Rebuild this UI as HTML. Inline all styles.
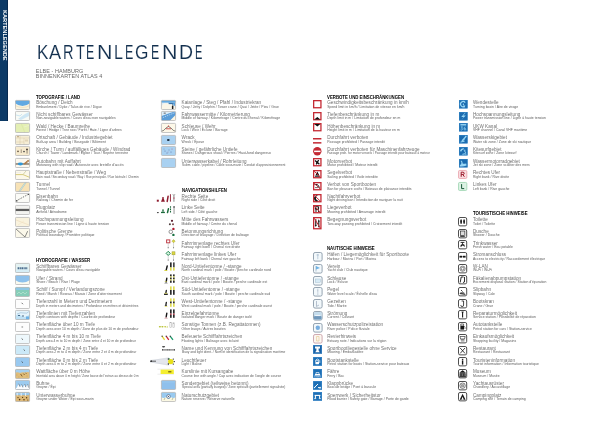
<!DOCTYPE html>
<html><head><meta charset="utf-8"><style>
html,body{margin:0;padding:0;background:#fff;}
body{width:600px;height:424px;position:relative;overflow:hidden;font-family:"Liberation Sans",sans-serif;}
.i{position:absolute;overflow:visible;}
.t,.s,.h{position:absolute;white-space:nowrap;line-height:1;}
.t{font-size:4.60px;color:#707070;letter-spacing:0.03px;}
.s{font-size:3.40px;color:#5a5a5a;letter-spacing:0.04px;}
.h{font-size:4.80px;font-weight:bold;color:#000;transform:scaleX(0.9);transform-origin:0 0;}
#side{position:absolute;left:0;top:0;width:8.2px;height:120.6px;background:linear-gradient(90deg,#0c3a66 0,#0c3a66 6.6px,#072a50 7.2px,#06264a 8.2px);}
#side div{position:absolute;left:6.9px;top:9.8px;transform-origin:0 0;transform:rotate(90deg);font-size:5.6px;font-weight:bold;color:#fff;line-height:1;white-space:nowrap;letter-spacing:0.02px;}
.tl{position:absolute;top:41.94px;font-size:20.4px;color:#13304f;line-height:1;transform-origin:0 0;-webkit-text-stroke:0.12px #fff;}
.sub{position:absolute;left:35.7px;font-size:5.45px;color:#666;line-height:1;white-space:nowrap;letter-spacing:0.08px;}
#wrap{position:absolute;left:0;top:0;width:600px;height:424px;will-change:transform;}
</style></head><body><div id="wrap">
<div id="side"><div>KARTENLEGENDE</div></div>
<div class="tl" style="left:36.63px;transform:scaleX(0.838)">K</div><div class="tl" style="left:48.90px;transform:scaleX(0.891)">A</div><div class="tl" style="left:62.73px;transform:scaleX(0.715)">R</div><div class="tl" style="left:75.61px;transform:scaleX(0.714)">T</div><div class="tl" style="left:86.41px;transform:scaleX(0.608)">E</div><div class="tl" style="left:96.54px;transform:scaleX(1.050)">N</div><div class="tl" style="left:113.71px;transform:scaleX(0.791)">L</div><div class="tl" style="left:124.50px;transform:scaleX(0.613)">E</div><div class="tl" style="left:135.13px;transform:scaleX(0.848)">G</div><div class="tl" style="left:150.81px;transform:scaleX(0.608)">E</div><div class="tl" style="left:162.29px;transform:scaleX(1.050)">N</div><div class="tl" style="left:178.94px;transform:scaleX(0.955)">D</div><div class="tl" style="left:194.61px;transform:scaleX(0.545)">E</div>
<div class="sub" style="top:68.5px">ELBE - HAMBURG</div>
<div class="sub" style="top:74.0px">BINNENKARTEN ATLAS 4</div>

<div class="h" style="left:36.2px;top:96px">TOPOGRAFIE / LAND</div>
<div class="h" style="left:36.2px;top:259px">HYDROGRAFIE / WASSER</div>
<div class="h" style="left:181.6px;top:189px">NAVIGATIONSHILFEN</div>
<div class="h" style="left:327.2px;top:96px">VERBOTE UND EINSCHRÄNKUNGEN</div>
<div class="h" style="left:327.2px;top:247px">NAUTISCHE HINWEISE</div>
<div class="h" style="left:473.0px;top:212px">TOURISTISCHE HINWEISE</div>
<svg class="i" style="left:15.3px;top:99.60px" width="15.0" height="9.9" viewBox="0 0 15.0 9.9"><defs><clipPath id="c15_0"><rect x="0.4" y="0.4" width="14.2" height="9.1" rx="0.9"/></clipPath></defs><g clip-path="url(#c15_0)"><rect width="15" height="10" fill="#fbf4de"/><path d="M0,0 H15 V3.2 Q7.5,8.6 0,3.2Z" fill="#62a9e2"/><path d="M0,5.5 Q7.5,9.5 15,5.5" stroke="#e8c9a0" stroke-width="0.4" fill="none"/></g><rect x="0.4" y="0.4" width="14.2" height="9.1" rx="0.9" fill="none" stroke="#b2b2b2" stroke-width="0.75"/></svg>
<div class="t" style="left:36.2px;top:101.10px">Böschung / Deich</div>
<div class="s" style="left:36.2px;top:105.60px">Embankment / Dyke / Talus de rive / Digue</div>
<svg class="i" style="left:15.3px;top:111.30px" width="15.0" height="9.9" viewBox="0 0 15.0 9.9"><defs><clipPath id="c15_1"><rect x="0.4" y="0.4" width="14.2" height="9.1" rx="0.9"/></clipPath></defs><g clip-path="url(#c15_1)"><rect width="15" height="10" fill="#f9fbf6"/><path d="M3,8 L7,5 L10,3 L14,1 L14,5 L10,7 L6,9Z" fill="#cfe7f4"/><path d="M1,4 L5,5 L7,3" stroke="#bfe0f0" stroke-width="0.8" fill="none"/></g><rect x="0.4" y="0.4" width="14.2" height="9.1" rx="0.9" fill="none" stroke="#b2b2b2" stroke-width="0.75"/></svg>
<div class="t" style="left:36.2px;top:112.80px">Nicht schiffbares Gewässer</div>
<div class="s" style="left:36.2px;top:117.30px">Non-navigable waters / Cours d'eau non navigables</div>
<svg class="i" style="left:15.3px;top:123.00px" width="15.0" height="9.9" viewBox="0 0 15.0 9.9"><defs><clipPath id="c15_2"><rect x="0.4" y="0.4" width="14.2" height="9.1" rx="0.9"/></clipPath></defs><g clip-path="url(#c15_2)"><rect width="15" height="10" fill="#e4efb4"/><path fill="none" d="M6,0 L10,10" stroke="#d4e29c" stroke-width="0.5"/><path fill="none" d="M9,4 L15,2" stroke="#f0f4d6" stroke-width="0.6"/></g><rect x="0.4" y="0.4" width="14.2" height="9.1" rx="0.9" fill="none" stroke="#b2b2b2" stroke-width="0.75"/></svg>
<div class="t" style="left:36.2px;top:124.50px">Wald / Hecke / Baumreihe</div>
<div class="s" style="left:36.2px;top:129.00px">Forest / Hedge / Tree row / Forêt / Haie / Ligne d'arbres</div>
<svg class="i" style="left:15.3px;top:134.70px" width="15.0" height="9.9" viewBox="0 0 15.0 9.9"><defs><clipPath id="c15_3"><rect x="0.4" y="0.4" width="14.2" height="9.1" rx="0.9"/></clipPath></defs><g clip-path="url(#c15_3)"><rect width="15" height="10" fill="#f6eed6"/><path fill="none" d="M1,3 H14 M5,0 V10 M9,3 V10 M1,7 H9" stroke="#d9c9a6" stroke-width="0.5"/><rect x="2" y="1" width="2" height="1.3" fill="#c9b48f"/><rect x="10" y="4.5" width="3" height="2" fill="#e2d4b6"/></g><rect x="0.4" y="0.4" width="14.2" height="9.1" rx="0.9" fill="none" stroke="#b2b2b2" stroke-width="0.75"/></svg>
<div class="t" style="left:36.2px;top:136.20px">Ortschaft / Gebäude / Industriegebiet</div>
<div class="s" style="left:36.2px;top:140.70px">Built-up area / Building / Bourgade / Bâtiment</div>
<svg class="i" style="left:15.3px;top:146.40px" width="15.0" height="9.9" viewBox="0 0 15.0 9.9"><defs><clipPath id="c15_4"><rect x="0.4" y="0.4" width="14.2" height="9.1" rx="0.9"/></clipPath></defs><g clip-path="url(#c15_4)"><rect width="15" height="10" fill="#f7ebcf"/><circle cx="3" cy="5.4" r="0.8" fill="#5a4a3a"/><rect x="5.6" y="3.4" width="1.4" height="3.6" fill="#b8ac98"/><circle cx="9" cy="5.6" r="0.8" fill="#3a3a3a"/><rect x="11.4" y="4.6" width="1.3" height="3" fill="#a89c88"/><circle cx="12" cy="3.4" r="1" fill="#4a4038"/></g><rect x="0.4" y="0.4" width="14.2" height="9.1" rx="0.9" fill="none" stroke="#b2b2b2" stroke-width="0.75"/></svg>
<div class="t" style="left:36.2px;top:147.90px">Kirche / Turm / auffälliges Gebäude / Windrad</div>
<div class="s" style="left:36.2px;top:152.40px">Church / Tower / Landmark / Église / Tour / Repère terrestre</div>
<svg class="i" style="left:15.3px;top:158.10px" width="15.0" height="9.9" viewBox="0 0 15.0 9.9"><defs><clipPath id="c15_5"><rect x="0.4" y="0.4" width="14.2" height="9.1" rx="0.9"/></clipPath></defs><g clip-path="url(#c15_5)"><rect width="15" height="10" fill="#fcf8ee"/><path fill="none" d="M0,6 H15" stroke="#3a2a1a" stroke-width="0.9"/><path fill="none" d="M9.2,6 L13.8,2.4" stroke="#8a5a2a" stroke-width="1.5"/><path fill="none" d="M9.2,6 L13.8,2.4" stroke="#e8b080" stroke-width="0.7"/><ellipse cx="5.4" cy="6" rx="2.5" ry="1.4" fill="#2f98d8"/></g><rect x="0.4" y="0.4" width="14.2" height="9.1" rx="0.9" fill="none" stroke="#b2b2b2" stroke-width="0.75"/></svg>
<div class="t" style="left:36.2px;top:159.60px">Autobahn mit Auffahrt</div>
<div class="s" style="left:36.2px;top:164.10px">Motorway with slip road / Autoroute avec bretelle d'accès</div>
<svg class="i" style="left:15.3px;top:169.80px" width="15.0" height="9.9" viewBox="0 0 15.0 9.9"><defs><clipPath id="c15_6"><rect x="0.4" y="0.4" width="14.2" height="9.1" rx="0.9"/></clipPath></defs><g clip-path="url(#c15_6)"><rect width="15" height="10" fill="#fcf8ea"/><path fill="none" d="M0,4.6 H8 L15,7.5" stroke="#d8cc7c" stroke-width="1"/><path fill="none" d="M8,4.6 L11,1" stroke="#c9c9a0" stroke-width="0.8"/><path fill="none" d="M0,2.5 L6,2.5" stroke="#ddd" stroke-width="0.4"/></g><rect x="0.4" y="0.4" width="14.2" height="9.1" rx="0.9" fill="none" stroke="#b2b2b2" stroke-width="0.75"/></svg>
<div class="t" style="left:36.2px;top:171.30px">Hauptstraße / Nebenstraße / Weg</div>
<div class="s" style="left:36.2px;top:175.80px;transform:scaleX(0.899);transform-origin:0 0">Main road / Secondary road / Way / Rue principale / Rue latérale / Chemin</div>
<svg class="i" style="left:15.3px;top:181.50px" width="15.0" height="9.9" viewBox="0 0 15.0 9.9"><defs><clipPath id="c15_7"><rect x="0.4" y="0.4" width="14.2" height="9.1" rx="0.9"/></clipPath></defs><g clip-path="url(#c15_7)"><rect width="15" height="10" fill="#f7e2b6"/><path fill="none" d="M4,10 L11,0" stroke="#a9c7c4" stroke-width="1.6"/><path fill="none" d="M4,10 L11,0" stroke="#eef4ee" stroke-width="0.5"/></g><rect x="0.4" y="0.4" width="14.2" height="9.1" rx="0.9" fill="none" stroke="#b2b2b2" stroke-width="0.75"/></svg>
<div class="t" style="left:36.2px;top:183.00px">Tunnel</div>
<div class="s" style="left:36.2px;top:187.50px">Tunnel / Tunnel</div>
<svg class="i" style="left:15.3px;top:193.20px" width="15.0" height="9.9" viewBox="0 0 15.0 9.9"><defs><clipPath id="c15_8"><rect x="0.4" y="0.4" width="14.2" height="9.1" rx="0.9"/></clipPath></defs><g clip-path="url(#c15_8)"><rect width="15" height="10" fill="#fbfbf7"/><path fill="none" d="M1,8 L13,1.5" stroke="#3a3a3a" stroke-width="0.7" stroke-dasharray="1.4,1.2"/><circle cx="13.5" cy="1.3" r="0.7" fill="#3a3a3a"/><rect x="1" y="7.2" width="1.5" height="1.3" fill="#555"/></g><rect x="0.4" y="0.4" width="14.2" height="9.1" rx="0.9" fill="none" stroke="#b2b2b2" stroke-width="0.75"/></svg>
<div class="t" style="left:36.2px;top:194.70px">Eisenbahn</div>
<div class="s" style="left:36.2px;top:199.20px">Railway / Chemin de fer</div>
<svg class="i" style="left:15.3px;top:204.90px" width="15.0" height="9.9" viewBox="0 0 15.0 9.9"><defs><clipPath id="c15_9"><rect x="0.4" y="0.4" width="14.2" height="9.1" rx="0.9"/></clipPath></defs><g clip-path="url(#c15_9)"><rect width="15" height="10" fill="#fbfbf8"/><rect x="0" y="3.8" width="15" height="2.3" fill="#5c5c5c"/><path fill="none" d="M0,2 H15 M0,8 H15" stroke="#d6d6d6" stroke-width="0.4"/></g><rect x="0.4" y="0.4" width="14.2" height="9.1" rx="0.9" fill="none" stroke="#b2b2b2" stroke-width="0.75"/></svg>
<div class="t" style="left:36.2px;top:206.40px">Flugplatz</div>
<div class="s" style="left:36.2px;top:210.90px">Airfield / Aérodrome</div>
<svg class="i" style="left:15.3px;top:216.60px" width="15.0" height="9.9" viewBox="0 0 15.0 9.9"><defs><clipPath id="c15_10"><rect x="0.4" y="0.4" width="14.2" height="9.1" rx="0.9"/></clipPath></defs><g clip-path="url(#c15_10)"><rect width="15" height="10" fill="#faf3de"/><path fill="none" d="M1,3 L14,8" stroke="#ecd9b8" stroke-width="0.6"/><path fill="none" d="M3,8 L9,4" stroke="#f0e2c4" stroke-width="0.5"/></g><rect x="0.4" y="0.4" width="14.2" height="9.1" rx="0.9" fill="none" stroke="#b2b2b2" stroke-width="0.75"/></svg>
<div class="t" style="left:36.2px;top:218.10px">Hochspannungsleitung</div>
<div class="s" style="left:36.2px;top:222.60px">Power transmission line / Ligne à haute tension</div>
<svg class="i" style="left:15.3px;top:228.30px" width="15.0" height="9.9" viewBox="0 0 15.0 9.9"><defs><clipPath id="c15_11"><rect x="0.4" y="0.4" width="14.2" height="9.1" rx="0.9"/></clipPath></defs><g clip-path="url(#c15_11)"><rect width="15" height="10" fill="#fbf8ea"/><path d="M1,1 L10,9 L12.5,3.5 L13,3" stroke="#5a5a5a" stroke-width="0.7" fill="none"/></g><rect x="0.4" y="0.4" width="14.2" height="9.1" rx="0.9" fill="none" stroke="#b2b2b2" stroke-width="0.75"/></svg>
<div class="t" style="left:36.2px;top:229.80px">Politische Grenze</div>
<div class="s" style="left:36.2px;top:234.30px">Political boundary / Frontière politique</div>
<svg class="i" style="left:15.3px;top:263.40px" width="15.0" height="9.9" viewBox="0 0 15.0 9.9"><defs><clipPath id="c15_14"><rect x="0.4" y="0.4" width="14.2" height="9.1" rx="0.9"/></clipPath></defs><g clip-path="url(#c15_14)"><rect width="15" height="10" fill="#e4f2f2"/><rect y="6.5" width="15" height="3.5" fill="#d6eef6"/><path fill="none" d="M2.6,5.2 h10" stroke="#4a6c8e" stroke-width="1.9" stroke-dasharray="1.6,0.5,1.2,0.5"/></g><rect x="0.4" y="0.4" width="14.2" height="9.1" rx="0.9" fill="none" stroke="#b2b2b2" stroke-width="0.75"/></svg>
<div class="t" style="left:36.2px;top:264.90px">Schiffbares Gewässer</div>
<div class="s" style="left:36.2px;top:269.40px">Navigable waters / Cours d'eau navigable</div>
<svg class="i" style="left:15.3px;top:275.10px" width="15.0" height="9.9" viewBox="0 0 15.0 9.9"><defs><clipPath id="c15_15"><rect x="0.4" y="0.4" width="14.2" height="9.1" rx="0.9"/></clipPath></defs><g clip-path="url(#c15_15)"><rect width="15" height="10" fill="#fafaf0"/><path d="M0,0 H15 V5 Q7.5,10 0,5Z" fill="#8dc1ec"/></g><rect x="0.4" y="0.4" width="14.2" height="9.1" rx="0.9" fill="none" stroke="#b2b2b2" stroke-width="0.75"/></svg>
<div class="t" style="left:36.2px;top:276.60px">Ufer / Strand</div>
<div class="s" style="left:36.2px;top:281.10px">Shore / Beach / Rive / Plage</div>
<svg class="i" style="left:15.3px;top:286.80px" width="15.0" height="9.9" viewBox="0 0 15.0 9.9"><defs><clipPath id="c15_16"><rect x="0.4" y="0.4" width="14.2" height="9.1" rx="0.9"/></clipPath></defs><g clip-path="url(#c15_16)"><rect width="15" height="10" fill="#86cdb8"/><rect width="15" height="3" fill="#8ec7e4"/><path d="M2,7 L4,5 L6,7 L8,5 L10,7 L12,5" stroke="#c8ecd8" stroke-width="0.6" fill="none"/></g><rect x="0.4" y="0.4" width="14.2" height="9.1" rx="0.9" fill="none" stroke="#b2b2b2" stroke-width="0.75"/></svg>
<div class="t" style="left:36.2px;top:288.30px">Schilf / Sumpf / Verlandungszone</div>
<div class="s" style="left:36.2px;top:292.80px">Reed / Marsh / Roseau / Marais / Zone d'atterrissement</div>
<svg class="i" style="left:15.3px;top:298.50px" width="15.0" height="9.9" viewBox="0 0 15.0 9.9"><defs><clipPath id="c15_17"><rect x="0.4" y="0.4" width="14.2" height="9.1" rx="0.9"/></clipPath></defs><g clip-path="url(#c15_17)"><rect width="15" height="10" fill="#fdfdfd"/><path fill="none" d="M6.6,3.8 L8,5.2" stroke="#333" stroke-width="0.7"/></g><rect x="0.4" y="0.4" width="14.2" height="9.1" rx="0.9" fill="none" stroke="#b2b2b2" stroke-width="0.75"/></svg>
<div class="t" style="left:36.2px;top:300.00px">Tiefenzahl in Metern und Dezimetern</div>
<div class="s" style="left:36.2px;top:304.50px;transform:scaleX(0.951);transform-origin:0 0">Depth in meters and decimeters / Profondeur en mètres et décimètres</div>
<svg class="i" style="left:15.3px;top:310.20px" width="15.0" height="9.9" viewBox="0 0 15.0 9.9"><defs><clipPath id="c15_18"><rect x="0.4" y="0.4" width="14.2" height="9.1" rx="0.9"/></clipPath></defs><g clip-path="url(#c15_18)"><rect width="15" height="10" fill="#e6f4fb"/><path d="M0,6 Q4,3 7,6 T15,4 V10 H0Z" fill="#bfe1f5"/><rect x="11" y="6.5" width="3" height="3" fill="#6fb2e6"/><path fill="none" d="M3,5.5 h2 M7,6 h2" stroke="#2a4a6a" stroke-width="0.8"/><path d="M2,4 Q6,2 9,3 T14,1.5" stroke="#5a8ab5" stroke-width="0.35" fill="none"/></g><rect x="0.4" y="0.4" width="14.2" height="9.1" rx="0.9" fill="none" stroke="#b2b2b2" stroke-width="0.75"/></svg>
<div class="t" style="left:36.2px;top:311.70px">Tiefenlinien mit Tiefenzahlen</div>
<div class="s" style="left:36.2px;top:316.20px">Depth contours with depths / Courbe de profondeur</div>
<svg class="i" style="left:15.3px;top:321.90px" width="15.0" height="9.9" viewBox="0 0 15.0 9.9"><defs><clipPath id="c15_19"><rect x="0.4" y="0.4" width="14.2" height="9.1" rx="0.9"/></clipPath></defs><g clip-path="url(#c15_19)"><rect width="15" height="10" fill="#fdfdfd"/><path fill="none" d="M6.5,5 h1.6" stroke="#333" stroke-width="0.6"/></g><rect x="0.4" y="0.4" width="14.2" height="9.1" rx="0.9" fill="none" stroke="#b2b2b2" stroke-width="0.75"/></svg>
<div class="t" style="left:36.2px;top:323.40px">Tiefenfläche über 10 m Tiefe</div>
<div class="s" style="left:36.2px;top:327.90px">Depth area over 10 m depth / Zone de plus de 10 m de profondeur</div>
<svg class="i" style="left:15.3px;top:333.60px" width="15.0" height="9.9" viewBox="0 0 15.0 9.9"><defs><clipPath id="c15_20"><rect x="0.4" y="0.4" width="14.2" height="9.1" rx="0.9"/></clipPath></defs><g clip-path="url(#c15_20)"><rect width="15" height="10" fill="#eef8fc"/><path fill="none" d="M6.6,4.5 L8,5.8" stroke="#333" stroke-width="0.7"/></g><rect x="0.4" y="0.4" width="14.2" height="9.1" rx="0.9" fill="none" stroke="#b2b2b2" stroke-width="0.75"/></svg>
<div class="t" style="left:36.2px;top:335.10px">Tiefenfläche 4 m bis 10 m Tiefe</div>
<div class="s" style="left:36.2px;top:339.60px;transform:scaleX(0.96);transform-origin:0 0">Depth area 4 m to 10 m depth / Zone entre 4 et 10 m de profondeur</div>
<svg class="i" style="left:15.3px;top:345.30px" width="15.0" height="9.9" viewBox="0 0 15.0 9.9"><defs><clipPath id="c15_21"><rect x="0.4" y="0.4" width="14.2" height="9.1" rx="0.9"/></clipPath></defs><g clip-path="url(#c15_21)"><rect width="15" height="10" fill="#cbe9f8"/><path fill="none" d="M8.6,4.5 L10,5.8" stroke="#333" stroke-width="0.7"/></g><rect x="0.4" y="0.4" width="14.2" height="9.1" rx="0.9" fill="none" stroke="#b2b2b2" stroke-width="0.75"/></svg>
<div class="t" style="left:36.2px;top:346.80px">Tiefenfläche 2 m bis 4 m Tiefe</div>
<div class="s" style="left:36.2px;top:351.30px">Depth area 2 m to 4 m depth / Zone entre 2 et 4 m de profondeur</div>
<svg class="i" style="left:15.3px;top:357.00px" width="15.0" height="9.9" viewBox="0 0 15.0 9.9"><defs><clipPath id="c15_22"><rect x="0.4" y="0.4" width="14.2" height="9.1" rx="0.9"/></clipPath></defs><g clip-path="url(#c15_22)"><rect width="15" height="10" fill="#99c9f0"/><path fill="none" d="M6.6,4.5 L8,5.8" stroke="#333" stroke-width="0.7"/></g><rect x="0.4" y="0.4" width="14.2" height="9.1" rx="0.9" fill="none" stroke="#b2b2b2" stroke-width="0.75"/></svg>
<div class="t" style="left:36.2px;top:358.50px">Tiefenfläche 0 m bis 2 m Tiefe</div>
<div class="s" style="left:36.2px;top:363.00px">Depth area 0 m to 2 m depth / Zone entre 0 et 2 m de profondeur</div>
<svg class="i" style="left:15.3px;top:368.70px" width="15.0" height="9.9" viewBox="0 0 15.0 9.9"><defs><clipPath id="c15_23"><rect x="0.4" y="0.4" width="14.2" height="9.1" rx="0.9"/></clipPath></defs><g clip-path="url(#c15_23)"><rect width="15" height="10" fill="#dfbd7a"/><path d="M0,0 H15 V3.4 Q12,2.4 10,3.6 Q7,2.6 5,4 Q2.5,2.8 0,3.8Z" fill="#a4cff0"/><path fill="none" d="M5.6,5 L7.2,7.4 M8.4,4.6 L9.6,6 M10.6,3.8 L11.4,4.8" stroke="#6a4a20" stroke-width="0.8"/><path fill="none" d="M1,6 h1.5 M3,8 h1.5 M11,7 h2" stroke="#c8a060" stroke-width="0.5"/></g><rect x="0.4" y="0.4" width="14.2" height="9.1" rx="0.9" fill="none" stroke="#b2b2b2" stroke-width="0.75"/></svg>
<div class="t" style="left:36.2px;top:370.20px">Wattfläche über 0 m Höhe</div>
<div class="s" style="left:36.2px;top:374.70px;transform:scaleX(0.891);transform-origin:0 0">Intertidal area above 0 m height / Zone basse de l'estran au dessus de 0 m</div>
<svg class="i" style="left:15.3px;top:380.40px" width="15.0" height="9.9" viewBox="0 0 15.0 9.9"><defs><clipPath id="c15_24"><rect x="0.4" y="0.4" width="14.2" height="9.1" rx="0.9"/></clipPath></defs><g clip-path="url(#c15_24)"><rect width="15" height="10" fill="#9ccbef"/><path d="M0,10 V7.6 L1.6,8 L3.6,3.8 L5,6.8 L6.6,4.4 L8.2,7.2 L9.6,4 L11,7 L12.6,4.2 L15,7.4 V10Z" fill="#fbfdff"/><path fill="none" d="M3.6,3.8 L5,6.8 M6.6,4.4 L7.8,7.4 M9.6,4 L10.8,7.2 M12.6,4.2 L13.6,7.6" stroke="#2a3a4a" stroke-width="0.5"/></g><rect x="0.4" y="0.4" width="14.2" height="9.1" rx="0.9" fill="none" stroke="#b2b2b2" stroke-width="0.75"/></svg>
<div class="t" style="left:36.2px;top:381.90px">Buhne</div>
<div class="s" style="left:36.2px;top:386.40px">Groyne / Épi</div>
<svg class="i" style="left:15.3px;top:392.10px" width="15.0" height="9.9" viewBox="0 0 15.0 9.9"><defs><clipPath id="c15_25"><rect x="0.4" y="0.4" width="14.2" height="9.1" rx="0.9"/></clipPath></defs><g clip-path="url(#c15_25)"><rect width="15" height="10" fill="#dcb877"/><rect width="15" height="3" fill="#9ccbef"/><path fill="none" d="M0,3 H15" stroke="#8ab0d0" stroke-width="0.4"/><path fill="none" d="M2.2,0.8 V3.6 M6.2,0.8 V4 M10.6,0.8 V4" stroke="#f2f6fa" stroke-width="0.9"/><g fill="#5a3a14"><circle cx="3" cy="5.6" r="0.7"/><circle cx="4.6" cy="7.6" r="0.8"/><circle cx="7.6" cy="5.4" r="0.6"/><circle cx="9" cy="7.8" r="0.8"/><circle cx="11.6" cy="5.8" r="0.7"/><circle cx="12.8" cy="8" r="0.6"/></g></g><rect x="0.4" y="0.4" width="14.2" height="9.1" rx="0.9" fill="none" stroke="#b2b2b2" stroke-width="0.75"/></svg>
<div class="t" style="left:36.2px;top:393.60px">Unterwasserbuhne</div>
<div class="s" style="left:36.2px;top:398.10px">Groyne under Water / Épi sous-marin</div>
<svg class="i" style="left:161.1px;top:99.60px" width="15.0" height="9.9" viewBox="0 0 15.0 9.9"><defs><clipPath id="c161_0"><rect x="0.4" y="0.4" width="14.2" height="9.1" rx="0.9"/></clipPath></defs><g clip-path="url(#c161_0)"><rect width="15" height="10" fill="#fbf6e8"/><path d="M0,0 H15 V6.2 H12.6 V4.4 H8.2 L7,3.2 H3 L0,6.5Z" fill="#dcecf7"/><rect width="15" height="2.6" fill="#64a9df"/><path d="M7,2.6 H14 V5.8 H12.4 V4 H8.6Z" fill="#5a9fd8"/><path d="M7.6,3.6 H11.6 V5.2" stroke="#24507a" stroke-width="0.6" fill="none"/><rect x="10.9" y="5.4" width="1.5" height="3.6" rx="0.6" fill="#1a1a1a"/></g><rect x="0.4" y="0.4" width="14.2" height="9.1" rx="0.9" fill="none" stroke="#b2b2b2" stroke-width="0.75"/></svg>
<div class="t" style="left:181.6px;top:101.10px">Kaianlage / Steg / Pfahl / Industriekran</div>
<div class="s" style="left:181.6px;top:105.60px">Quay / Jetty / Dolphin / Tower crane / Quai / Jetée / Pieu / Grue</div>
<svg class="i" style="left:161.1px;top:111.30px" width="15.0" height="9.9" viewBox="0 0 15.0 9.9"><defs><clipPath id="c161_1"><rect x="0.4" y="0.4" width="14.2" height="9.1" rx="0.9"/></clipPath></defs><g clip-path="url(#c161_1)"><rect width="15" height="10" fill="#fbf5e2"/><path d="M0,0 H15 V1.5 L0,7.5Z" fill="#dcecf8"/><path d="M0,5.2 Q5,3.6 9,2 L15,0 V3.6 L8.6,10 H0Z" fill="#5b9dd8"/><path d="M0,7.4 Q5,5.2 9.6,3.4 L15,1.2" stroke="#ffffff" stroke-width="0.6" fill="none" stroke-dasharray="1.2,0.9"/><path fill="none" d="M2.4,2.2 h2.6 M3.8,1.4 v1.6" stroke="#555" stroke-width="0.5"/></g><rect x="0.4" y="0.4" width="14.2" height="9.1" rx="0.9" fill="none" stroke="#b2b2b2" stroke-width="0.75"/></svg>
<div class="t" style="left:181.6px;top:112.80px">Fahrwassermitte / Kilometrierung</div>
<div class="s" style="left:181.6px;top:117.30px">Middle of fairway / Kilometrage / Centre du chenal / Kilométrage</div>
<svg class="i" style="left:161.1px;top:123.00px" width="15.0" height="9.9" viewBox="0 0 15.0 9.9"><defs><clipPath id="c161_2"><rect x="0.4" y="0.4" width="14.2" height="9.1" rx="0.9"/></clipPath></defs><g clip-path="url(#c161_2)"><rect width="15" height="10" fill="#fdf8e8"/><path d="M0,8.5 Q3,8 5,5 Q7.5,2 10,5 Q12,8 15,8.5" stroke="#333" stroke-width="0.6" fill="none"/><path fill="none" d="M5,5.8 H10" stroke="#c33" stroke-width="0.8"/><path d="M7.5,2.2 L6.5,3.5 H8.5Z" fill="#c33"/></g><rect x="0.4" y="0.4" width="14.2" height="9.1" rx="0.9" fill="none" stroke="#b2b2b2" stroke-width="0.75"/></svg>
<div class="t" style="left:181.6px;top:124.50px">Schleuse / Wehr</div>
<div class="s" style="left:181.6px;top:129.00px">Lock / Weir / Écluse / Barrage</div>
<svg class="i" style="left:161.1px;top:134.70px" width="15.0" height="9.9" viewBox="0 0 15.0 9.9"><defs><clipPath id="c161_3"><rect x="0.4" y="0.4" width="14.2" height="9.1" rx="0.9"/></clipPath></defs><g clip-path="url(#c161_3)"><rect width="15" height="10" fill="#a9d1f1"/><ellipse cx="7.3" cy="5" rx="1.4" ry="0.9" fill="#1a2a3a"/></g><rect x="0.4" y="0.4" width="14.2" height="9.1" rx="0.9" fill="none" stroke="#b2b2b2" stroke-width="0.75"/></svg>
<div class="t" style="left:181.6px;top:136.20px">Wrack</div>
<div class="s" style="left:181.6px;top:140.70px">Wreck / Épave</div>
<svg class="i" style="left:161.1px;top:146.40px" width="15.0" height="9.9" viewBox="0 0 15.0 9.9"><defs><clipPath id="c161_4"><rect x="0.4" y="0.4" width="14.2" height="9.1" rx="0.9"/></clipPath></defs><g clip-path="url(#c161_4)"><rect width="15" height="10" fill="#a9d1f1"/><g fill="#5a70a0"><circle cx="4" cy="5" r="0.5"/><circle cx="6" cy="7" r="0.5"/><circle cx="8" cy="4" r="0.5"/><circle cx="10" cy="6" r="0.5"/><circle cx="3" cy="3" r="0.4"/></g><g fill="#b06a8a"><circle cx="11" cy="3" r="0.5"/><circle cx="7" cy="6" r="0.4"/></g></g><rect x="0.4" y="0.4" width="14.2" height="9.1" rx="0.9" fill="none" stroke="#b2b2b2" stroke-width="0.75"/></svg>
<div class="t" style="left:181.6px;top:147.90px">Steine / gefährliche Untiefe</div>
<div class="s" style="left:181.6px;top:152.40px">Stones / Dangerous shoal / Pierres / Haut-fond dangereux</div>
<svg class="i" style="left:161.1px;top:158.10px" width="15.0" height="9.9" viewBox="0 0 15.0 9.9"><defs><clipPath id="c161_5"><rect x="0.4" y="0.4" width="14.2" height="9.1" rx="0.9"/></clipPath></defs><g clip-path="url(#c161_5)"><rect width="15" height="10" fill="#a9d1f1"/></g><rect x="0.4" y="0.4" width="14.2" height="9.1" rx="0.9" fill="none" stroke="#b2b2b2" stroke-width="0.75"/></svg>
<div class="t" style="left:181.6px;top:159.60px">Unterwasserkabel / Rohrleitung</div>
<div class="s" style="left:181.6px;top:164.10px;transform:scaleX(0.922);transform-origin:0 0">Subm. cable / pipeline / Câble sous-marin / Conduit d'approvisionnement</div>
<svg class="i" style="left:154px;top:192.20px" width="24" height="12" viewBox="0 0 24 12"><rect x="2.8" y="7.7" width="2" height="2" fill="#8e1b2e"/><circle cx="9" cy="5.9" r="0.95" fill="#8e1b2e"/><path d="M7,9.7 L8.3,6.6 H9.7 L10.9,9.7Z" fill="#8e1b2e"/><path fill="none" d="M13.2,9.4 L14.1,4.3" stroke="#8e1b2e" stroke-width="1.5" stroke-linecap="round"/><path fill="none" d="M16.45,2.2 V9" stroke="#8e1b2e" stroke-width="0.9"/><circle cx="16.45" cy="9.1" r="0.6" fill="#8e1b2e"/><path fill="none" d="M19.9,4 V9.7" stroke="#9a9a9a" stroke-width="1.2"/><path d="M18.8,2 L19.9,4 L21,2" stroke="#9a9a9a" stroke-width="0.8" fill="none"/><path fill="none" d="M19.9,5.2 V7" stroke="#c07080" stroke-width="1.2"/></svg>
<div class="t" style="left:181.6px;top:194.70px">Rechte Seite</div>
<div class="s" style="left:181.6px;top:199.20px">Right side / Côté droit</div>
<svg class="i" style="left:154px;top:203.90px" width="24" height="12" viewBox="0 0 24 12"><ellipse cx="3.9" cy="8.6" rx="1" ry="0.6" fill="#333"/><rect x="8.3" y="5.2" width="1.4" height="2.6" rx="0.5" fill="#1c6b3c"/><rect x="7" y="7.8" width="3.9" height="1.3" fill="#1c6b3c"/><path fill="none" d="M13.5,8.6 L14.4,4.8" stroke="#1c6b3c" stroke-width="1.5" stroke-linecap="round"/><path fill="none" d="M16.5,2.2 V9.1" stroke="#1c6b3c" stroke-width="1.1" stroke-dasharray="1.6,0.7"/><path fill="none" d="M20.05,2.2 V9.9" stroke="#b5b5b5" stroke-width="1.4"/><path fill="none" d="M20.05,2.2 V3.8" stroke="#555" stroke-width="1.4"/></svg>
<div class="t" style="left:181.6px;top:206.40px">Linke Seite</div>
<div class="s" style="left:181.6px;top:210.90px">Left side / Côté gauche</div>
<svg class="i" style="left:154px;top:215.60px" width="24" height="12" viewBox="0 0 24 12"><circle cx="18" cy="4.8" r="1.1" fill="#5a1a2a"/><circle cx="15.9" cy="8.3" r="1" fill="#4a3a3a"/><circle cx="19" cy="8.3" r="1" fill="#7a4a4a"/></svg>
<div class="t" style="left:181.6px;top:218.10px">Mitte des Fahrwassers</div>
<div class="s" style="left:181.6px;top:222.60px">Middle of fairway / Centre du chenal</div>
<svg class="i" style="left:154px;top:227.30px" width="24" height="12" viewBox="0 0 24 12"><circle cx="16.8" cy="4.8" r="1.8" fill="#fff" stroke="#888" stroke-width="0.9"/><circle cx="19.4" cy="1.9" r="1.2" fill="#b01c30"/><circle cx="19.4" cy="7.9" r="1.2" fill="#157040"/></svg>
<div class="t" style="left:181.6px;top:229.80px">Betonnungsrichtung</div>
<div class="s" style="left:181.6px;top:234.30px">Direction of buoyage / Direction de balisage</div>
<svg class="i" style="left:154px;top:239.00px" width="24" height="12" viewBox="0 0 24 12"><rect x="12.6" y="0.9" width="3.2" height="2.9" fill="#fff" stroke="#c0404a" stroke-width="1"/><path fill="none" d="M14.2,3.8 V9" stroke="#999" stroke-width="0.4"/><circle cx="14.2" cy="8.8" r="0.55" fill="#555"/><path d="M19.55,0.6 L21.1,2.2 L19.55,3.8 L18,2.2Z" fill="#dcd840" stroke="#9a9a30" stroke-width="0.5"/><path fill="none" d="M19.55,3.8 V9" stroke="#999" stroke-width="0.4"/><circle cx="19.55" cy="8.8" r="0.55" fill="#555"/></svg>
<div class="t" style="left:181.6px;top:241.50px">Fahrrinnenlage rechtes Ufer</div>
<div class="s" style="left:181.6px;top:246.00px">Fairway right bank / Chenal rive droite</div>
<svg class="i" style="left:154px;top:250.70px" width="24" height="12" viewBox="0 0 24 12"><path d="M14.2,0.3 L16.3,2.4 L14.2,4.5 L12.1,2.4Z" fill="#d8f0e0" stroke="#1f8a50" stroke-width="1"/><path fill="none" d="M14.2,4.5 V9.3" stroke="#999" stroke-width="0.4"/><circle cx="14.2" cy="9" r="0.55" fill="#555"/><rect x="18" y="0.8" width="3" height="3" fill="#dcd840" stroke="#9a9a30" stroke-width="0.5"/><path fill="none" d="M19.5,3.8 V9.3" stroke="#999" stroke-width="0.4"/><circle cx="19.5" cy="9" r="0.55" fill="#555"/></svg>
<div class="t" style="left:181.6px;top:253.20px">Fahrrinnenlage linkes Ufer</div>
<div class="s" style="left:181.6px;top:257.70px">Fairway left bank / Chenal rive gauche</div>
<svg class="i" style="left:154px;top:262.40px" width="24" height="12" viewBox="0 0 24 12"><path fill="none" d="M12.2,8.2 L13.2,4 " stroke="#151515" stroke-width="1.4" stroke-linecap="round"/><ellipse cx="11.8" cy="8.5" rx="1.8" ry="0.6" fill="#dcd840"/><rect x="16.1" y="0.4" width="1.5" height="5.0" fill="#151515"/><rect x="16.1" y="5.4" width="1.5" height="3.1999999999999993" fill="#dcd840"/><rect x="19.1" y="0.4" width="1.5" height="5.0" fill="#333"/><rect x="19.1" y="5.4" width="1.5" height="3.1999999999999993" fill="#dcd840"/></svg>
<div class="t" style="left:181.6px;top:264.90px">Nord-Untiefentonne / -stange</div>
<div class="s" style="left:181.6px;top:269.40px">North cardinal mark / pole / Bouée / perche cardinale nord</div>
<svg class="i" style="left:154px;top:274.10px" width="24" height="12" viewBox="0 0 24 12"><path fill="none" d="M12.2,7.6 L12.8,4.3" stroke="#151515" stroke-width="1.4" stroke-linecap="round"/><path d="M10.2,9.2 Q12,7.6 13.8,9.2Z" fill="#151515"/><rect x="10.6" y="7.4" width="2.6" height="0.5" fill="#dcd840"/><rect x="16.1" y="0.4" width="1.5" height="2.0" fill="#151515"/><rect x="16.1" y="2.4" width="1.5" height="1.2000000000000002" fill="#dcd840"/><rect x="16.1" y="3.6" width="1.5" height="1.8000000000000003" fill="#151515"/><rect x="16.1" y="5.4" width="1.5" height="1.1999999999999993" fill="#dcd840"/><rect x="16.1" y="6.6" width="1.5" height="2.200000000000001" fill="#151515"/><rect x="19.1" y="0.4" width="1.5" height="2.0" fill="#151515"/><rect x="19.1" y="2.4" width="1.5" height="1.2000000000000002" fill="#dcd840"/><rect x="19.1" y="3.6" width="1.5" height="1.8000000000000003" fill="#151515"/><rect x="19.1" y="5.4" width="1.5" height="1.1999999999999993" fill="#dcd840"/><rect x="19.1" y="6.6" width="1.5" height="2.200000000000001" fill="#151515"/></svg>
<div class="t" style="left:181.6px;top:276.60px">Ost-Untiefentonne / -stange</div>
<div class="s" style="left:181.6px;top:281.10px">East cardinal mark / pole / Bouée / perche cardinale est</div>
<svg class="i" style="left:154px;top:285.80px" width="24" height="12" viewBox="0 0 24 12"><path fill="none" d="M11.9,6.8 L12.3,4.5" stroke="#151515" stroke-width="1.3" stroke-linecap="round"/><rect x="10" y="7.6" width="3.8" height="1.3" fill="#151515"/><rect x="10.6" y="6.9" width="2.6" height="0.7" fill="#dcd840"/><rect x="16.1" y="0.4" width="1.5" height="3.6" fill="#dcd840"/><rect x="16.1" y="4" width="1.5" height="4.800000000000001" fill="#151515"/><rect x="19.1" y="0.4" width="1.5" height="3.6" fill="#dcd840"/><rect x="19.1" y="4" width="1.5" height="4.800000000000001" fill="#151515"/></svg>
<div class="t" style="left:181.6px;top:288.30px">Süd-Untiefentonne / -stange</div>
<div class="s" style="left:181.6px;top:292.80px">South cardinal mark / pole / Bouée / perche cardinale sud</div>
<svg class="i" style="left:154px;top:297.50px" width="24" height="12" viewBox="0 0 24 12"><path fill="none" d="M11.9,7 L12.3,4.5" stroke="#151515" stroke-width="1.3" stroke-linecap="round"/><path d="M10.2,9 Q12,7.4 13.8,9Z" fill="#dcd840"/><rect x="10.8" y="7" width="2.2" height="0.6" fill="#151515"/><rect x="16.1" y="0.4" width="1.5" height="3.1" fill="#dcd840"/><rect x="16.1" y="3.5" width="1.5" height="2.0" fill="#151515"/><rect x="16.1" y="5.5" width="1.5" height="3.3000000000000007" fill="#dcd840"/><rect x="19.1" y="0.4" width="1.5" height="3.1" fill="#dcd840"/><rect x="19.1" y="3.5" width="1.5" height="2.0" fill="#151515"/><rect x="19.1" y="5.5" width="1.5" height="3.3000000000000007" fill="#dcd840"/></svg>
<div class="t" style="left:181.6px;top:300.00px">West-Untiefentonne / -stange</div>
<div class="s" style="left:181.6px;top:304.50px">West cardinal mark / pole / Bouée / perche cardinale ouest</div>
<svg class="i" style="left:154px;top:309.20px" width="24" height="12" viewBox="0 0 24 12"><path fill="none" d="M12.2,7.6 L12.8,4.3" stroke="#151515" stroke-width="1.4" stroke-linecap="round"/><path d="M10.2,9.2 Q12,7.6 13.8,9.2Z" fill="#8a1a2a"/><rect x="16.1" y="0.4" width="1.5" height="4.1" fill="#151515"/><rect x="16.1" y="4.5" width="1.5" height="1.5" fill="#9a2a3a"/><rect x="16.1" y="6" width="1.5" height="2.8000000000000007" fill="#151515"/><rect x="19.1" y="0.4" width="1.5" height="4.1" fill="#151515"/><rect x="19.1" y="4.5" width="1.5" height="1.5" fill="#9a2a3a"/><rect x="19.1" y="6" width="1.5" height="2.8000000000000007" fill="#151515"/></svg>
<div class="t" style="left:181.6px;top:311.70px">Einzelgefahrtonne</div>
<div class="s" style="left:181.6px;top:316.20px">Isolated danger mark / Bouée de danger isolé</div>
<svg class="i" style="left:154px;top:320.90px" width="24" height="12" viewBox="0 0 24 12"><ellipse cx="5.9" cy="5.8" rx="1.1" ry="0.7" fill="#b5c030"/><ellipse cx="8.4" cy="5.8" rx="1.1" ry="0.7" fill="#b5c030"/><ellipse cx="11.2" cy="5.8" rx="1" ry="0.7" fill="#c5c840"/><path d="M12.6,6.4 L13.2,4.8 L13.8,6.4Z" fill="#b5c030"/><rect x="15.9" y="1.6" width="1.4" height="5" fill="none" stroke="#aaa" stroke-width="0.5"/><rect x="18.9" y="1.8" width="1.3" height="4.8" fill="none" stroke="#aaa" stroke-width="0.5"/></svg>
<div class="t" style="left:181.6px;top:323.40px">Sonstige Tonnen (z.B. Regattatonnen)</div>
<div class="s" style="left:181.6px;top:327.90px">Other buoys / Autres bouées</div>
<svg class="i" style="left:154px;top:332.60px" width="24" height="12" viewBox="0 0 24 12"><path fill="none" d="M8.2,3.4 L10.6,6.8" stroke="#e8d830" stroke-width="1.3"/><path fill="none" d="M12.3,3.4 L14.8,6.8" stroke="#c8283a" stroke-width="1.3"/><path fill="none" d="M16.3,3.4 L19,6.8" stroke="#1a9a6a" stroke-width="1.3"/><circle cx="8.1" cy="3.2" r="0.6" fill="#151515"/><circle cx="12.2" cy="3.2" r="0.6" fill="#151515"/><circle cx="16.2" cy="3.2" r="0.6" fill="#151515"/></svg>
<div class="t" style="left:181.6px;top:335.10px">Befeuerte Schifffahrtszeichen</div>
<div class="s" style="left:181.6px;top:339.60px">Floating lights / Balisage avec éclairé</div>
<svg class="i" style="left:154px;top:344.30px" width="24" height="12" viewBox="0 0 24 12"><path d="M8.2,2.3 L11.2,2.3 L10.2,3.6 L8.4,3.3Z" fill="#151515"/><path fill="none" d="M8,5.9 H21" stroke="#222" stroke-width="1.2" stroke-dasharray="1,0.4,0.6,0.4"/></svg>
<div class="t" style="left:181.6px;top:346.80px">Name und Kennung von Schifffahrtszeichen</div>
<div class="s" style="left:181.6px;top:351.30px;transform:scaleX(0.948);transform-origin:0 0">Buoy and light ident. / Nom et identification de la signalisation maritime</div>
<svg class="i" style="left:147px;top:356.00px" width="32" height="12" viewBox="0 0 32 12"><path d="M3,4.2 L22,1.2 L22,9.8 L3,6.2Z" fill="#e4e6ec"/><path fill="none" d="M3,4.4 L20,2.6 M3,6 L20,8.6" stroke="#c0c4cc" stroke-width="0.3"/><path fill="none" d="M3,5.2 H9" stroke="#222" stroke-width="0.7"/><path d="M3,5.2 L5,4.3 L5,6.1Z" fill="#222"/><circle cx="23.8" cy="5.6" r="2.7" fill="#e8e01a"/><g fill="#222"><circle cx="21.4" cy="3.1" r="0.75"/><circle cx="26.3" cy="3.1" r="0.65"/><circle cx="21.4" cy="8.1" r="0.75"/><circle cx="26.3" cy="8.1" r="0.65"/><circle cx="27.3" cy="5.6" r="0.7"/></g><circle cx="22.2" cy="2.9" r="0.6" fill="#1a8a3a"/></svg>
<div class="t" style="left:181.6px;top:358.50px">Leuchtfeuer</div>
<div class="s" style="left:181.6px;top:363.00px">Light / Balise</div>
<svg class="i" style="left:156px;top:367.00px" width="20" height="12" viewBox="0 0 20 12"><path fill="none" d="M1.5,2.2 H18 M1.5,7.2 H18" stroke="#c4c4c4" stroke-width="0.35"/><rect x="4.6" y="2.6" width="13.2" height="4.4" fill="#f4ee30"/><rect x="12.2" y="4.2" width="3.2" height="1.2" fill="#6a5a10"/></svg>
<div class="t" style="left:181.6px;top:370.20px">Kurslinie mit Kursangabe</div>
<div class="s" style="left:181.6px;top:374.70px">Course line with angle / Cap avec indication de l'angle de course</div>
<svg class="i" style="left:161.1px;top:380.40px" width="15.0" height="9.9" viewBox="0 0 15.0 9.9"><defs><clipPath id="c161_24"><rect x="0.4" y="0.4" width="14.2" height="9.1" rx="0.9"/></clipPath></defs><g clip-path="url(#c161_24)"><rect width="15" height="10" fill="#8fc0ec"/><path fill="none" d="M0.5,2 H14" stroke="#b8d8f4" stroke-width="0.3"/></g><rect x="0.4" y="0.4" width="14.2" height="9.1" rx="0.9" fill="none" stroke="#b2b2b2" stroke-width="0.75"/></svg>
<div class="t" style="left:181.6px;top:381.90px">Sondergebiet (teilweise betonnt)</div>
<div class="s" style="left:181.6px;top:386.40px;transform:scaleX(0.929);transform-origin:0 0">Special area (partially buoyed) / Zone spéciale (partiellement signalisée)</div>
<svg class="i" style="left:161.1px;top:392.10px" width="15.0" height="9.9" viewBox="0 0 15.0 9.9"><defs><clipPath id="c161_25"><rect x="0.4" y="0.4" width="14.2" height="9.1" rx="0.9"/></clipPath></defs><g clip-path="url(#c161_25)"><rect width="15" height="10" fill="#fbf8e2"/><path d="M0,0 H15 V5 Q12,7 10,5 Q7.5,9 5,5 Q3,7 0,5Z" fill="#99caf0"/><circle cx="7.5" cy="4.5" r="1.8" fill="#fff" stroke="#2a3a5a" stroke-width="0.5"/><circle cx="7.5" cy="4.5" r="0.6" fill="#2a3a5a"/><path fill="none" d="M3,8 L4,6 M11,8 L12,6" stroke="#5a6a4a" stroke-width="0.4"/></g><rect x="0.4" y="0.4" width="14.2" height="9.1" rx="0.9" fill="none" stroke="#b2b2b2" stroke-width="0.75"/></svg>
<div class="t" style="left:181.6px;top:393.60px">Naturschutzgebiet</div>
<div class="s" style="left:181.6px;top:398.10px">Nature reserve / Réserve naturelle</div>
<svg class="i" style="left:312.79999999999995px;top:99.90px" width="8.6" height="8.4" viewBox="0 0 8.6 8.4"><rect x="0.65" y="0.65" width="7.3" height="7.1000000000000005" fill="#fff" stroke="#c42a34" stroke-width="1.3"/></svg>
<div class="t" style="left:327.2px;top:101.10px">Geschwindigkeitsbeschränkung in km/h</div>
<div class="s" style="left:327.2px;top:105.60px">Speed limit in km/h / Limitation de vitesse en km/h</div>
<svg class="i" style="left:312.79999999999995px;top:111.60px" width="8.6" height="8.4" viewBox="0 0 8.6 8.4"><rect x="0.65" y="0.65" width="7.3" height="7.1000000000000005" fill="#fff" stroke="#c42a34" stroke-width="1.3"/><path d="M1.2,7.4 L4.3,4.9 L7.4,7.4Z" fill="#111"/></svg>
<div class="t" style="left:327.2px;top:112.80px">Tiefenbeschränkung in m</div>
<div class="s" style="left:327.2px;top:117.30px">Depth limit in m / Limitation de profondeur en m</div>
<svg class="i" style="left:312.79999999999995px;top:123.30px" width="8.6" height="8.4" viewBox="0 0 8.6 8.4"><rect x="0.65" y="0.65" width="7.3" height="7.1000000000000005" fill="#fff" stroke="#c42a34" stroke-width="1.3"/><path d="M1.2,1 L4.3,3.5 L7.4,1Z" fill="#111"/></svg>
<div class="t" style="left:327.2px;top:124.50px">Höhenbeschränkung in m</div>
<div class="s" style="left:327.2px;top:129.00px">Height limit in m / Limitation de la hauteur en m</div>
<svg class="i" style="left:312.9px;top:137.70px" width="8.4" height="6" viewBox="0 0 8.4 6"><rect x="0" y="0" width="8.4" height="1.5" fill="#c42a34"/><rect x="0" y="4.1" width="8.4" height="1.5" fill="#c42a34"/></svg>
<div class="t" style="left:327.2px;top:136.20px">Durchfahrt verboten</div>
<div class="s" style="left:327.2px;top:140.70px">Passage prohibited / Passage interdit</div>
<svg class="i" style="left:312.79999999999995px;top:146.70px" width="8.6" height="8.6" viewBox="0 0 8.6 8.6"><circle cx="4.3" cy="4.3" r="4.2" fill="#c42a34"/><rect x="1.1" y="3.6" width="6.4" height="1.5" fill="#fff"/></svg>
<div class="t" style="left:327.2px;top:147.90px">Durchfahrt verboten für Maschinenfahrzeuge</div>
<div class="s" style="left:327.2px;top:152.40px;transform:scaleX(0.904);transform-origin:0 0">Passage proh. for motor vessels / Passage interdit pour bateaux à moteur</div>
<svg class="i" style="left:312.79999999999995px;top:158.40px" width="8.6" height="8.4" viewBox="0 0 8.6 8.4"><rect x="0.65" y="0.65" width="7.3" height="7.1000000000000005" fill="#fff" stroke="#c42a34" stroke-width="1.3"/><path fill="none" d="M2,2.4 L6.4,6.2 M5.6,2 L3.2,6.4" stroke="#111" stroke-width="1.3"/><circle cx="4.3" cy="4.2" r="1" fill="#111"/></svg>
<div class="t" style="left:327.2px;top:159.60px">Motorverbot</div>
<div class="s" style="left:327.2px;top:164.10px">Motor prohibited / Moteur interdit</div>
<svg class="i" style="left:312.79999999999995px;top:170.10px" width="8.6" height="8.4" viewBox="0 0 8.6 8.4"><rect x="0.65" y="0.65" width="7.3" height="7.1000000000000005" fill="#fff" stroke="#c42a34" stroke-width="1.3"/><path d="M4.3,1.6 L6.4,5.6 H2.4Z" fill="#111"/><path fill="none" d="M2,6.3 H6.6" stroke="#111" stroke-width="0.9"/><path fill="none" d="M1.2,1.2 L7.4,7.2" stroke="#c42a34" stroke-width="1"/></svg>
<div class="t" style="left:327.2px;top:171.30px">Segelverbot</div>
<div class="s" style="left:327.2px;top:175.80px">Sailing prohibited / Voile interdite</div>
<svg class="i" style="left:312.79999999999995px;top:181.80px" width="8.6" height="8.4" viewBox="0 0 8.6 8.4"><rect x="0.65" y="0.65" width="7.3" height="7.1000000000000005" fill="#fff" stroke="#c42a34" stroke-width="1.3"/><path d="M1.5,2.6 H4.5 L6.6,5.6" stroke="#111" stroke-width="1" fill="none"/><path fill="none" d="M2,5.6 H5" stroke="#111" stroke-width="0.6"/><path fill="none" d="M1.2,1.2 L7.4,7.2" stroke="#c42a34" stroke-width="1"/></svg>
<div class="t" style="left:327.2px;top:183.00px">Verbot von Sportbooten</div>
<div class="s" style="left:327.2px;top:187.50px">Ban for pleasure crafts / Bateaux de plaisance interdits</div>
<svg class="i" style="left:312.79999999999995px;top:193.50px" width="8.6" height="8.4" viewBox="0 0 8.6 8.4"><rect x="0.65" y="0.65" width="7.3" height="7.1000000000000005" fill="#fff" stroke="#c42a34" stroke-width="1.3"/><path d="M5,1.5 A3,3 0 1,0 6,6.6 A2.3,2.3 0 1,1 5,1.5Z" fill="#111"/><path fill="none" d="M1.2,1.2 L7.4,7.2" stroke="#c42a34" stroke-width="1"/></svg>
<div class="t" style="left:327.2px;top:194.70px">Nachtfahrverbot</div>
<div class="s" style="left:327.2px;top:199.20px">Night driving ban / Interdiction de naviguer la nuit</div>
<svg class="i" style="left:312.79999999999995px;top:205.20px" width="8.6" height="8.4" viewBox="0 0 8.6 8.4"><rect x="0.65" y="0.65" width="7.3" height="7.1000000000000005" fill="#fff" stroke="#c42a34" stroke-width="1.3"/><path d="M2.4,1.8 H5.6 V4.2 H2.4Z M3,4.2 V7 M5,4.2 L5.8,7" stroke="#111" stroke-width="1" fill="none"/><path fill="none" d="M1.2,1.2 L7.4,7.2" stroke="#c42a34" stroke-width="1"/></svg>
<div class="t" style="left:327.2px;top:206.40px">Liegeverbot</div>
<div class="s" style="left:327.2px;top:210.90px">Mooring prohibited / Amarrage interdit</div>
<svg class="i" style="left:312.79999999999995px;top:217.10px" width="8.6" height="12.4" viewBox="0 0 8.6 12.4"><rect x="0.65" y="0.65" width="7.3" height="11.1" fill="#fff" stroke="#c42a34" stroke-width="1.3"/><path fill="none" d="M2.8,2.2 V8.4 M5.8,10.2 V4" stroke="#111" stroke-width="1.1"/><path d="M1.8,8 L2.8,10 L3.8,8Z M4.8,4.4 L5.8,2.2 L6.8,4.4Z" fill="#111"/><path fill="none" d="M1.2,1.2 L7.4,11.2" stroke="#c42a34" stroke-width="1"/></svg>
<div class="t" style="left:327.2px;top:218.10px">Begegnungsverbot</div>
<div class="s" style="left:327.2px;top:222.60px">Two-way passing prohibited / Croisement interdit</div>
<svg class="i" style="left:312.5px;top:252.30px" width="9.6" height="9.6" viewBox="0 0 9.6 9.6"><rect x="0.5" y="0.5" width="8.6" height="8.6" rx="1.6" fill="#f2f8fb" stroke="#8a9aa8" stroke-width="0.9"/><path fill="none" d="M4.8,2 V7.2 M3.5,3 H6" stroke="#9ab0c4" stroke-width="0.6"/></svg>
<div class="t" style="left:327.2px;top:253.20px">Häfen / Liegemöglichkeit für Sportboote</div>
<div class="s" style="left:327.2px;top:257.70px">Harbour / Marina / Port / Marina</div>
<svg class="i" style="left:312.5px;top:264.00px" width="9.6" height="9.6" viewBox="0 0 9.6 9.6"><rect x="0.5" y="0.5" width="8.6" height="8.6" rx="1.6" fill="#f2f8fb" stroke="#8a9aa8" stroke-width="0.9"/><path fill="none" d="M3,2 V7.5" stroke="#6a8aa8" stroke-width="0.5"/><path d="M3,2 L7,4 L3,5.5Z" fill="#6fb3e6"/></svg>
<div class="t" style="left:327.2px;top:264.90px">Verein</div>
<div class="s" style="left:327.2px;top:269.40px">Yacht club / Club nautique</div>
<svg class="i" style="left:312.5px;top:275.70px" width="9.6" height="9.6" viewBox="0 0 9.6 9.6"><rect x="0.5" y="0.5" width="8.6" height="8.6" rx="1.6" fill="#f2f8fb" stroke="#8a9aa8" stroke-width="0.9"/><rect x="2.2" y="3" width="5.2" height="3.4" fill="#d8ebf6" stroke="#9ab4c8" stroke-width="0.4"/></svg>
<div class="t" style="left:327.2px;top:276.60px">Schleuse</div>
<div class="s" style="left:327.2px;top:281.10px">Lock / Écluse</div>
<svg class="i" style="left:312.5px;top:287.40px" width="9.6" height="9.6" viewBox="0 0 9.6 9.6"><rect x="0.5" y="0.5" width="8.6" height="8.6" rx="1.6" fill="#f2f8fb" stroke="#8a9aa8" stroke-width="0.9"/><path fill="none" d="M4.8,1.8 V7.6" stroke="#8a9ab0" stroke-width="0.8" stroke-dasharray="0.8,0.5"/></svg>
<div class="t" style="left:327.2px;top:288.30px">Pegel</div>
<div class="s" style="left:327.2px;top:292.80px">Water level scale / Échelle d'eau</div>
<svg class="i" style="left:312.5px;top:299.10px" width="9.6" height="9.6" viewBox="0 0 9.6 9.6"><rect x="0.5" y="0.5" width="8.6" height="8.6" rx="1.6" fill="#f2f8fb" stroke="#8a9aa8" stroke-width="0.9"/><path d="M3.5,2 V7.5 L6,6" stroke="#8a9ab0" stroke-width="0.6" fill="none"/></svg>
<div class="t" style="left:327.2px;top:300.00px">Gezeiten</div>
<div class="s" style="left:327.2px;top:304.50px">Tide / Marée</div>
<svg class="i" style="left:312.5px;top:310.80px" width="9.6" height="9.6" viewBox="0 0 9.6 9.6"><rect x="0.5" y="0.5" width="8.6" height="8.6" rx="1.6" fill="#f2f8fb" stroke="#8a9aa8" stroke-width="0.9"/><rect x="1" y="1" width="7.6" height="7.6" rx="1.2" fill="#c4dcec"/><rect x="1" y="5" width="7.6" height="3.6" rx="1" fill="#6f98bc"/><path fill="none" d="M2.2,4.6 H7.4" stroke="#fff" stroke-width="0.8"/></svg>
<div class="t" style="left:327.2px;top:311.70px">Strömung</div>
<div class="s" style="left:327.2px;top:316.20px">Current / Courant</div>
<svg class="i" style="left:312.5px;top:322.50px" width="9.6" height="9.6" viewBox="0 0 9.6 9.6"><rect x="0.5" y="0.5" width="8.6" height="8.6" rx="1.6" fill="#f2f8fb" stroke="#8a9aa8" stroke-width="0.9"/><circle cx="4.8" cy="4.8" r="2.2" fill="#78aee0"/></svg>
<div class="t" style="left:327.2px;top:323.40px">Wasserschutzpolizeistation</div>
<div class="s" style="left:327.2px;top:327.90px">River police / Police fluviale</div>
<svg class="i" style="left:312.5px;top:334.20px" width="9.6" height="9.6" viewBox="0 0 9.6 9.6"><rect x="0.5" y="0.5" width="8.6" height="8.6" rx="1.6" fill="#fbf6f0" stroke="#c9a0a8" stroke-width="0.9"/><path d="M3.6,2.5 H6 V7 H3.6Z" fill="none" stroke="#e6c48a" stroke-width="0.6"/></svg>
<div class="t" style="left:327.2px;top:335.10px">Revierhinweis</div>
<div class="s" style="left:327.2px;top:339.60px">Estuary note / Indications sur la région</div>
<svg class="i" style="left:312.7px;top:345.40px" width="9" height="8.8" viewBox="0 0 9 8.8"><rect x="0" y="0" width="9" height="8.8" fill="#1a62a6"/><rect x="0.25" y="0.25" width="8.5" height="8.3" fill="none" stroke="#4a92d0" stroke-width="0.5"/><path d="M2,1.6 H7 V3.6 H5.6 V5.6 L6.8,7.2 H2.2 L3.4,5.6 V3.6 H2Z" fill="#fff"/></svg>
<div class="t" style="left:327.2px;top:346.80px">Sportbootliegestelle ohne Service</div>
<div class="s" style="left:327.2px;top:351.30px">Mooring / Embarcadère</div>
<svg class="i" style="left:312.7px;top:357.10px" width="9" height="8.8" viewBox="0 0 9 8.8"><rect x="0" y="0" width="9" height="8.8" fill="#1d6fb5"/><rect x="0.25" y="0.25" width="8.5" height="8.3" fill="none" stroke="#4a92d0" stroke-width="0.5"/><rect x="2.4" y="3" width="3.6" height="4.2" rx="0.4" fill="#fff"/><path d="M2.8,3 Q4.2,1.2 5.8,2.6 L6.8,3.6 V6" stroke="#fff" stroke-width="0.7" fill="none"/><rect x="3" y="3.6" width="2.4" height="1.2" fill="#1d6fb5"/></svg>
<div class="t" style="left:327.2px;top:358.50px">Bootstankstelle</div>
<div class="s" style="left:327.2px;top:363.00px">Petrol station for boats / Station-service pour bateaux</div>
<svg class="i" style="left:312.7px;top:368.80px" width="9" height="8.8" viewBox="0 0 9 8.8"><rect x="0" y="0" width="9" height="8.8" fill="#1d6fb5"/><rect x="0.25" y="0.25" width="8.5" height="8.3" fill="none" stroke="#4a92d0" stroke-width="0.5"/><path d="M1.4,6.4 H7.6 L6.8,5 H2.2Z" fill="#fff"/><path d="M3,5 V3.6 H6 V5" stroke="#fff" stroke-width="0.7" fill="none"/><path d="M1.2,7.4 Q2.4,6.8 3.6,7.4 Q4.8,8 6,7.4 Q7,6.9 7.8,7.4" stroke="#fff" stroke-width="0.5" fill="none"/></svg>
<div class="t" style="left:327.2px;top:370.20px">Fähre</div>
<div class="s" style="left:327.2px;top:374.70px">Ferry / Bac</div>
<svg class="i" style="left:312.7px;top:380.50px" width="9" height="8.8" viewBox="0 0 9 8.8"><rect x="0" y="0" width="9" height="8.8" fill="#1d6fb5"/><rect x="0.25" y="0.25" width="8.5" height="8.3" fill="none" stroke="#4a92d0" stroke-width="0.5"/><path fill="none" d="M1.4,6.6 L5,3" stroke="#fff" stroke-width="1"/><path fill="none" d="M5,6.6 H7.6" stroke="#fff" stroke-width="1"/><circle cx="1.6" cy="6.6" r="0.7" fill="#fff"/><path d="M6.2,7.4 L7.4,5.6 L7.8,7.4Z" fill="#fff"/></svg>
<div class="t" style="left:327.2px;top:381.90px">Klappbrücke</div>
<div class="s" style="left:327.2px;top:386.40px">Bascule bridge / Pont à bascule</div>
<svg class="i" style="left:312.7px;top:392.20px" width="9" height="8.8" viewBox="0 0 9 8.8"><rect x="0" y="0" width="9" height="8.8" fill="#1d6fb5"/><rect x="0.25" y="0.25" width="8.5" height="8.3" fill="none" stroke="#4a92d0" stroke-width="0.5"/><path fill="none" d="M1.6,3.4 H7.4" stroke="#fff" stroke-width="1.1"/><path fill="none" d="M2.4,3.4 V6.4 M6.6,3.4 V6.4" stroke="#fff" stroke-width="1"/><path fill="none" d="M1.2,6.6 H3.2 M5.8,6.6 H7.8" stroke="#fff" stroke-width="0.8"/></svg>
<div class="t" style="left:327.2px;top:393.60px">Sperrwerk / Sicherheitstor</div>
<div class="s" style="left:327.2px;top:398.10px">Flood barrier / Safety gate / Barrage / Porte de garde</div>
<svg class="i" style="left:458.59999999999997px;top:100.00px" width="8.6" height="8.4" viewBox="0 0 8.6 8.4"><rect x="0" y="0" width="8.6" height="8.4" fill="#1b6cb0"/><rect x="0.25" y="0.25" width="8.1" height="7.9" fill="none" stroke="#3a8ac8" stroke-width="0.5"/><path d="M6.2,2.6 A2.6,2.6 0 1,0 5.4,6.4" stroke="#9ad8f6" stroke-width="1.2" fill="none"/><path d="M4,5.6 L6.4,5.6 L5.6,7.8Z" fill="#9ad8f6"/><circle cx="4.4" cy="4.3" r="0.7" fill="#9ad8f6"/></svg>
<div class="t" style="left:473.0px;top:101.10px">Wendestelle</div>
<div class="s" style="left:473.0px;top:105.60px">Turning basin / Aire de virage</div>
<svg class="i" style="left:458.59999999999997px;top:111.70px" width="8.6" height="8.4" viewBox="0 0 8.6 8.4"><rect x="0" y="0" width="8.6" height="8.4" fill="#1b6cb0"/><rect x="0.25" y="0.25" width="8.1" height="7.9" fill="none" stroke="#3a8ac8" stroke-width="0.5"/><path d="M6,0.8 L2.2,4.9 H4.7 L2.6,7.8 L6.8,3.5 H4.3 L6.6,0.8Z" fill="#9ad8f6"/></svg>
<div class="t" style="left:473.0px;top:112.80px">Hochspannungsleitung</div>
<div class="s" style="left:473.0px;top:117.30px">Power transmission line / Ligne à haute tension</div>
<svg class="i" style="left:458.59999999999997px;top:123.40px" width="8.6" height="8.4" viewBox="0 0 8.6 8.4"><rect x="0" y="0" width="8.6" height="8.4" fill="#1b6cb0"/><rect x="0.25" y="0.25" width="8.1" height="7.9" fill="none" stroke="#3a8ac8" stroke-width="0.5"/><rect x="1.4" y="1.1" width="5.8" height="1.4" fill="#9ad8f6"/><path d="M1.8,3.8 H3.6 L2.4,5.2 Q3.8,5.3 3.4,6.6 Q2.8,7.4 1.6,6.8 M6.4,3.8 Q5,4 5,5.6 Q5,7.2 6,7.1 Q7,7 6.9,6 Q6.8,5 5.2,5.4" stroke="#9ad8f6" stroke-width="0.7" fill="none"/></svg>
<div class="t" style="left:473.0px;top:124.50px">UKW Kanal</div>
<div class="s" style="left:473.0px;top:129.00px">VHF channel / Canal VHF maritime</div>
<svg class="i" style="left:458.59999999999997px;top:135.10px" width="8.6" height="8.4" viewBox="0 0 8.6 8.4"><rect x="0" y="0" width="8.6" height="8.4" fill="#1b6cb0"/><rect x="0.25" y="0.25" width="8.1" height="7.9" fill="none" stroke="#3a8ac8" stroke-width="0.5"/><path fill="none" d="M7,1.4 L3,6" stroke="#9ad8f6" stroke-width="1.3"/><path fill="none" d="M1.6,7 L5.6,6.2" stroke="#9ad8f6" stroke-width="1"/><circle cx="6.8" cy="1.6" r="0.8" fill="#9ad8f6"/><path d="M3,6 L4.8,5.2 L5.6,3.6" stroke="#9ad8f6" stroke-width="0.8" fill="none"/></svg>
<div class="t" style="left:473.0px;top:136.20px">Wasserskigebiet</div>
<div class="s" style="left:473.0px;top:140.70px">Water ski zone / Zone de ski nautique</div>
<svg class="i" style="left:458.59999999999997px;top:146.80px" width="8.6" height="8.4" viewBox="0 0 8.6 8.4"><rect x="0" y="0" width="8.6" height="8.4" fill="#1b6cb0"/><rect x="0.25" y="0.25" width="8.1" height="7.9" fill="none" stroke="#3a8ac8" stroke-width="0.5"/><path d="M1,4.2 Q1.4,1 5,1.2 L4.6,2.4 Q2.6,2.4 2.4,4.4Z" fill="#9ad8f6"/><path d="M5.2,3.8 L6.6,5.2 L6,6.6" stroke="#9ad8f6" stroke-width="1" fill="none"/><path d="M3.4,7.3 Q5.4,6.6 7.4,7.2" stroke="#9ad8f6" stroke-width="1" fill="none"/><circle cx="5.8" cy="3.2" r="0.7" fill="#9ad8f6"/></svg>
<div class="t" style="left:473.0px;top:147.90px">Kitesurfgebiet</div>
<div class="s" style="left:473.0px;top:152.40px">Kitesurf zone / Zone kitesurf</div>
<svg class="i" style="left:458.59999999999997px;top:158.50px" width="8.6" height="8.4" viewBox="0 0 8.6 8.4"><rect x="0" y="0" width="8.6" height="8.4" fill="#1b6cb0"/><rect x="0.25" y="0.25" width="8.1" height="7.9" fill="none" stroke="#3a8ac8" stroke-width="0.5"/><path d="M0.9,7.4 Q4,7.8 7.6,6.6 L7.2,4.6 Q5,5 3.8,4.8 L3.2,2.6 L2.2,1.6 L1.6,2 L2.4,3.2 L2.2,5.2 L0.9,6Z" fill="#9ad8f6"/></svg>
<div class="t" style="left:473.0px;top:159.60px">Wassermotorradgebiet</div>
<div class="s" style="left:473.0px;top:164.10px">Jet ski zone / Zone scooter des mers</div>
<svg class="i" style="left:458.4px;top:170.00px" width="9.4" height="9" viewBox="0 0 9.4 9"><rect x="0.45" y="0.45" width="8.4" height="8" rx="1.2" fill="#f9dde0" stroke="#e8a0a8" stroke-width="0.8"/><path d="M3.2,6.8 V2.2 H4.9 Q6.2,2.2 6.2,3.4 Q6.2,4.5 4.9,4.5 H3.2 M4.8,4.5 L6.4,6.8" stroke="#9a1a2a" stroke-width="1" fill="none"/></svg>
<div class="t" style="left:473.0px;top:171.30px">Rechtes Ufer</div>
<div class="s" style="left:473.0px;top:175.80px">Right bank / Rive droite</div>
<svg class="i" style="left:458.4px;top:181.70px" width="9.4" height="9" viewBox="0 0 9.4 9"><rect x="0.45" y="0.45" width="8.4" height="8" rx="1.2" fill="#dcf2e4" stroke="#9cd4b0" stroke-width="0.8"/><path d="M3.6,2.1 V6.6 H6.2" stroke="#1a5a3a" stroke-width="1" fill="none"/></svg>
<div class="t" style="left:473.0px;top:183.00px">Linkes Ufer</div>
<div class="s" style="left:473.0px;top:187.50px">Left bank / Rive gauche</div>
<svg class="i" style="left:458.4px;top:216.80px" width="9.2" height="9.4" viewBox="0 0 9.2 9.4"><rect x="0.5" y="0.5" width="8.2" height="8.4" rx="1.5" fill="#fff" stroke="#3a3a3a" stroke-width="0.9"/><ellipse cx="3.1" cy="4.7" rx="0.9" ry="2.4" fill="#151515"/><ellipse cx="6.1" cy="4.7" rx="0.9" ry="2.4" fill="#151515"/></svg>
<div class="t" style="left:473.0px;top:218.10px">Toilette</div>
<div class="s" style="left:473.0px;top:222.60px">Toilet / Toilette</div>
<svg class="i" style="left:458.4px;top:228.50px" width="9.2" height="9.4" viewBox="0 0 9.2 9.4"><rect x="0.5" y="0.5" width="8.2" height="8.4" rx="1.5" fill="#fff" stroke="#3a3a3a" stroke-width="0.9"/><rect x="2.3" y="2" width="4.6" height="5.4" fill="#ddd" stroke="#151515" stroke-width="0.6"/><rect x="3" y="6.4" width="3" height="1" fill="#151515"/></svg>
<div class="t" style="left:473.0px;top:229.80px">Dusche</div>
<div class="s" style="left:473.0px;top:234.30px">Shower / Douche</div>
<svg class="i" style="left:458.4px;top:240.20px" width="9.2" height="9.4" viewBox="0 0 9.2 9.4"><rect x="0.5" y="0.5" width="8.2" height="8.4" rx="1.5" fill="#fff" stroke="#3a3a3a" stroke-width="0.9"/><path fill="none" d="M2.6,2.4 H6.4" stroke="#151515" stroke-width="0.9"/><path fill="none" d="M4.5,2.4 V4" stroke="#151515" stroke-width="0.8"/><path d="M2.2,6.6 Q2.4,4.2 4.6,4 Q6.6,4 7,6.4 L6,6.6 Q5.6,5.6 4.6,5.6 Q3.6,5.8 3.4,6.8Z" fill="#151515"/></svg>
<div class="t" style="left:473.0px;top:241.50px">Trinkwasser</div>
<div class="s" style="left:473.0px;top:246.00px">Fresh water / Eau potable</div>
<svg class="i" style="left:458.4px;top:251.90px" width="9.2" height="9.4" viewBox="0 0 9.2 9.4"><rect x="0.5" y="0.5" width="8.2" height="8.4" rx="1.5" fill="#fff" stroke="#3a3a3a" stroke-width="0.9"/><rect x="1.5" y="3.8" width="2.6" height="1.8" fill="#151515"/><rect x="5" y="3.8" width="2.6" height="1.8" fill="#151515"/><path fill="none" d="M4.1,4.7 H5" stroke="#151515" stroke-width="0.5"/></svg>
<div class="t" style="left:473.0px;top:253.20px">Stromanschluss</div>
<div class="s" style="left:473.0px;top:257.70px">Access to electricity / Raccordement électrique</div>
<svg class="i" style="left:458.4px;top:263.60px" width="9.2" height="9.4" viewBox="0 0 9.2 9.4"><rect x="0.5" y="0.5" width="8.2" height="8.4" rx="1.5" fill="#fff" stroke="#3a3a3a" stroke-width="0.9"/><circle cx="4.6" cy="4.7" r="2.6" fill="none" stroke="#151515" stroke-width="0.5"/><circle cx="4.6" cy="4.7" r="1.4" fill="none" stroke="#151515" stroke-width="0.5"/></svg>
<div class="t" style="left:473.0px;top:264.90px">W-LAN</div>
<div class="s" style="left:473.0px;top:269.40px">Wi-Fi / Wi-Fi</div>
<svg class="i" style="left:458.4px;top:275.30px" width="9.2" height="9.4" viewBox="0 0 9.2 9.4"><rect x="0.5" y="0.5" width="8.2" height="8.4" rx="1.5" fill="#fff" stroke="#3a3a3a" stroke-width="0.9"/><path d="M2.2,7.5 L3.2,2 H5.5 M6.5,2 V7 L5,7.5" stroke="#151515" stroke-width="0.9" fill="none"/></svg>
<div class="t" style="left:473.0px;top:276.60px">Fäkalienabpumpstation</div>
<div class="s" style="left:473.0px;top:281.10px">Excrement disposal station / Station d'épuration</div>
<svg class="i" style="left:458.4px;top:287.00px" width="9.2" height="9.4" viewBox="0 0 9.2 9.4"><rect x="0.5" y="0.5" width="8.2" height="8.4" rx="1.5" fill="#fff" stroke="#3a3a3a" stroke-width="0.9"/><path fill="none" d="M1.8,6.6 L7.4,7.4" stroke="#151515" stroke-width="0.9"/><path d="M2.4,5.6 H6 L6.8,6.4 H2.4Z" fill="#151515"/><path fill="none" d="M3,3 L4.6,4.6" stroke="#151515" stroke-width="0.8"/></svg>
<div class="t" style="left:473.0px;top:288.30px">Slipbahn</div>
<div class="s" style="left:473.0px;top:292.80px">Slipway / Cale</div>
<svg class="i" style="left:458.4px;top:298.70px" width="9.2" height="9.4" viewBox="0 0 9.2 9.4"><rect x="0.5" y="0.5" width="8.2" height="8.4" rx="1.5" fill="#fff" stroke="#3a3a3a" stroke-width="0.9"/><path d="M3.6,2 H5.6 V6 Q5.6,7.6 4.2,7.6 Q2.8,7.6 2.8,6.2" stroke="#151515" stroke-width="0.8" fill="none"/></svg>
<div class="t" style="left:473.0px;top:300.00px">Bootskran</div>
<div class="s" style="left:473.0px;top:304.50px">Crane / Grue</div>
<svg class="i" style="left:458.4px;top:310.40px" width="9.2" height="9.4" viewBox="0 0 9.2 9.4"><rect x="0.5" y="0.5" width="8.2" height="8.4" rx="1.5" fill="#fff" stroke="#3a3a3a" stroke-width="0.9"/><path fill="none" d="M4.6,2 V7.6" stroke="#151515" stroke-width="1.1"/><path fill="none" d="M3.5,2 H5.7" stroke="#151515" stroke-width="0.8"/></svg>
<div class="t" style="left:473.0px;top:311.70px">Reparaturmöglichkeit</div>
<div class="s" style="left:473.0px;top:316.20px">Service station / Possibilité de réparation</div>
<svg class="i" style="left:458.4px;top:322.10px" width="9.2" height="9.4" viewBox="0 0 9.2 9.4"><rect x="0.5" y="0.5" width="8.2" height="8.4" rx="1.5" fill="#fff" stroke="#3a3a3a" stroke-width="0.9"/><rect x="2.4" y="3.6" width="3.6" height="4" fill="#151515"/><path d="M2.8,3.6 V2 H5.6 V3.6" stroke="#151515" stroke-width="0.6" fill="none"/><path d="M6,4 L7,5 V7" stroke="#151515" stroke-width="0.5" fill="none"/></svg>
<div class="t" style="left:473.0px;top:323.40px">Autotankstelle</div>
<div class="s" style="left:473.0px;top:327.90px">Petrol station for cars / Station-service</div>
<svg class="i" style="left:458.4px;top:333.80px" width="9.2" height="9.4" viewBox="0 0 9.2 9.4"><rect x="0.5" y="0.5" width="8.2" height="8.4" rx="1.5" fill="#fff" stroke="#3a3a3a" stroke-width="0.9"/><path d="M2,2.5 H7.2 L6.5,5 H2.6Z" fill="none" stroke="#151515" stroke-width="0.6"/><path fill="none" d="M2.6,5.8 H6.5 M3,7 H6.5" stroke="#151515" stroke-width="0.5"/></svg>
<div class="t" style="left:473.0px;top:335.10px">Einkaufsmöglichkeit</div>
<div class="s" style="left:473.0px;top:339.60px">Shopping facility / Magasins</div>
<svg class="i" style="left:458.4px;top:345.50px" width="9.2" height="9.4" viewBox="0 0 9.2 9.4"><rect x="0.5" y="0.5" width="8.2" height="8.4" rx="1.5" fill="#fff" stroke="#3a3a3a" stroke-width="0.9"/><path fill="none" d="M2.2,2 L7,7.4 M7,2 L2.2,7.4" stroke="#151515" stroke-width="0.8"/></svg>
<div class="t" style="left:473.0px;top:346.80px">Restaurant</div>
<div class="s" style="left:473.0px;top:351.30px">Restaurant / Restaurant</div>
<svg class="i" style="left:458.4px;top:357.20px" width="9.2" height="9.4" viewBox="0 0 9.2 9.4"><rect x="0.5" y="0.5" width="8.2" height="8.4" rx="1.5" fill="#fff" stroke="#3a3a3a" stroke-width="0.9"/><rect x="3.9" y="3.4" width="1.4" height="4.2" fill="#151515"/><rect x="3.9" y="1.8" width="1.4" height="1.1" fill="#151515"/></svg>
<div class="t" style="left:473.0px;top:358.50px">Touristeninformation</div>
<div class="s" style="left:473.0px;top:363.00px">Tourist information / Information touristique</div>
<svg class="i" style="left:458.4px;top:368.90px" width="9.2" height="9.4" viewBox="0 0 9.2 9.4"><rect x="0.5" y="0.5" width="8.2" height="8.4" rx="1.5" fill="#fff" stroke="#3a3a3a" stroke-width="0.9"/><path d="M1.2,3.8 L4.6,1.2 L8,3.8Z" fill="#151515"/><rect x="1.6" y="4.2" width="6" height="3.2" fill="#151515"/><path fill="none" d="M3,4.6 V7 M4.6,4.6 V7 M6.2,4.6 V7" stroke="#ddd" stroke-width="0.5"/><rect x="1.2" y="7.3" width="6.8" height="0.9" fill="#151515"/></svg>
<div class="t" style="left:473.0px;top:370.20px">Museum</div>
<div class="s" style="left:473.0px;top:374.70px">Museum / Musée</div>
<svg class="i" style="left:458.4px;top:380.60px" width="9.2" height="9.4" viewBox="0 0 9.2 9.4"><rect x="0.5" y="0.5" width="8.2" height="8.4" rx="1.5" fill="#fff" stroke="#3a3a3a" stroke-width="0.9"/><circle cx="4.6" cy="4.7" r="2.7" fill="none" stroke="#444" stroke-width="0.7"/><circle cx="4.6" cy="4.7" r="1.1" fill="none" stroke="#444" stroke-width="0.6"/><path fill="none" d="M2.7,2.8 L6.5,6.6 M6.5,2.8 L2.7,6.6" stroke="#666" stroke-width="0.4"/></svg>
<div class="t" style="left:473.0px;top:381.90px">Yachtausrüster</div>
<div class="s" style="left:473.0px;top:386.40px">Chandlery / Accastillage</div>
<svg class="i" style="left:458.4px;top:392.30px" width="9.2" height="9.4" viewBox="0 0 9.2 9.4"><rect x="0.5" y="0.5" width="8.2" height="8.4" rx="1.5" fill="#fff" stroke="#3a3a3a" stroke-width="0.9"/><path d="M1.6,7.8 L4.6,1.8 L7.6,7.8Z" fill="#151515"/><path d="M4.6,4.4 L3.4,7.8 H5.8Z" fill="#fff"/></svg>
<div class="t" style="left:473.0px;top:393.60px">Campingplatz</div>
<div class="s" style="left:473.0px;top:398.10px">Camping site / Terrain de camping</div>
</div></body></html>
